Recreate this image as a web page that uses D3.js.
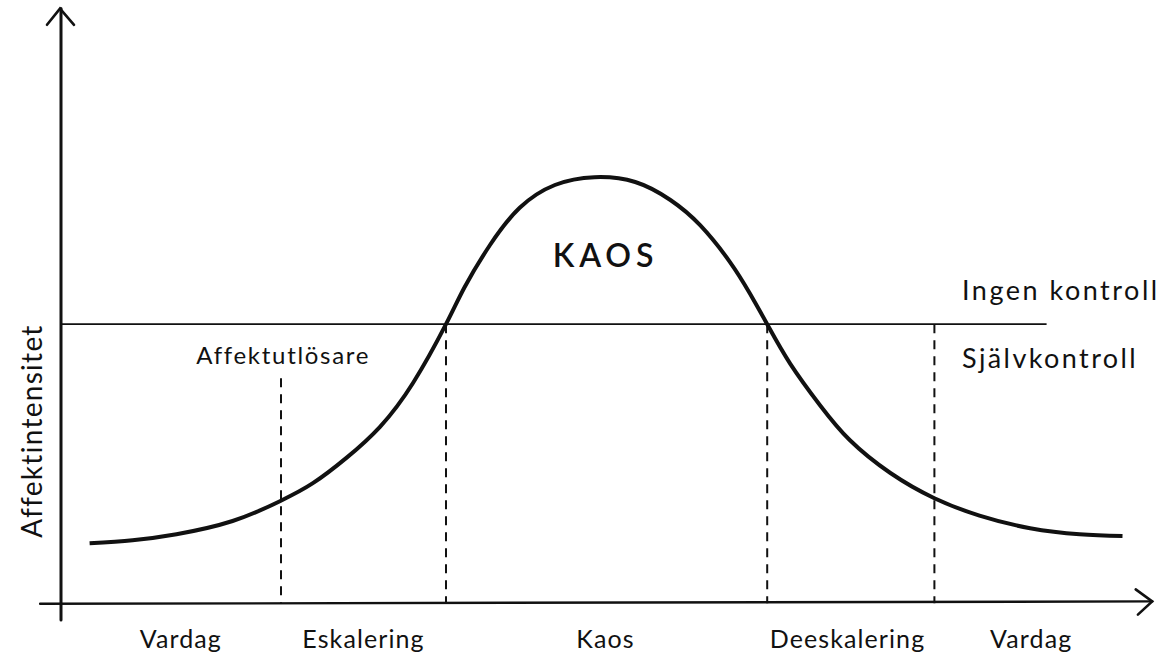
<!DOCTYPE html>
<html>
<head>
<meta charset="utf-8">
<script src="https://cdn.jsdelivr.net/npm/d3@7"></script>
<style>
  html, body { margin: 0; padding: 0; background: #fff; }
  svg { display: block; }
  text { font-family: Lato, "Open Sans", sans-serif; fill: #111; }
</style>
</head>
<body>
<div id="chart"></div>
<script>
// ---- data ----
const curveX = [2.6, 6.5, 10.5, 15.6, 19.9, 22.9, 26, 29, 32, 35, 36.7, 39, 41.7, 44.9, 48.5, 52.2, 55.4, 58.1, 60.8, 62.6, 64.2, 66.3, 69, 71.7, 75.4, 79.4, 83.5, 88.1, 92.6, 96.5];
const curveY = [10.3, 10.8, 11.8, 14.0, 17.3, 20.3, 24.6, 29.7, 37, 46.8, 53, 60, 66.2, 70, 71.3, 70.5, 67.5, 63.3, 57.2, 52, 46.8, 40.2, 33.3, 27.5, 22, 17.8, 14.9, 12.8, 11.8, 11.5];
const controlLevel = 46.8;
const controlLineEnd = 89.6;
const boundaryX = [20, 35, 64.2, 79.4];
const boundaryTop = [37.8, 46.8, 46.8, 46.8];
const phaseLabels = ["Vardag", "Eskalering", "Kaos", "Deeskalering", "Vardag"];
const phaseLabelX = [10.9, 27.5, 49.5, 71.5, 88.2];
const yAxisLabel = "Affektintensitet";
const triggerLabel = "Affektutlösare";
const chaosLabel = "KAOS";
const upperZoneLabel = "Ingen kontroll";
const lowerZoneLabel = "Självkontroll";

// ---- layout ----
const W = 1172, H = 656;
const x = d3.scaleLinear().domain([0, 100]).range([61, 1161]);
const y = d3.scaleLinear().domain([0, 100]).range([605, 5]);

const svg = d3.select("#chart").append("svg").attr("width", W).attr("height", H);

// axes
const g = svg.append("g").attr("stroke", "#111").attr("fill", "none").attr("stroke-linecap", "round");
g.append("line").attr("x1", x(0)).attr("x2", x(0)).attr("y1", y(-2.5)).attr("y2", y(99.4)).attr("stroke-width", 3);
g.append("path").attr("d", `M${x(0) - 14},${y(96.7)} L${x(0) - 1},${y(99.4)} L${x(0) + 13},${y(96.7)}`).attr("stroke-width", 2.6).attr("stroke-linejoin", "miter");
g.append("line").attr("x1", x(-1.9)).attr("x2", x(99.2)).attr("y1", y(0.2)).attr("y2", y(0.6)).attr("stroke-width", 2.4);
g.append("path").attr("d", `M${x(97.7)},${y(2.6)} L${x(99.2)},${y(0.6)} L${x(97.9)},${y(-1.6)}`).attr("stroke-width", 2.6);

// control threshold line
svg.append("line")
  .attr("x1", x(0)).attr("x2", x(controlLineEnd))
  .attr("y1", y(controlLevel)).attr("y2", y(controlLevel))
  .attr("stroke", "#111").attr("stroke-width", 1.8);

// dashed phase boundaries
svg.selectAll("line.boundary").data(boundaryX).join("line")
  .attr("class", "boundary")
  .attr("x1", d => x(d)).attr("x2", d => x(d))
  .attr("y1", (d, i) => y(boundaryTop[i])).attr("y2", y(0.3))
  .attr("stroke", "#111").attr("stroke-width", 2)
  .attr("stroke-dasharray", "9,7");

// curve
const pts = curveX.map((v, i) => [v, curveY[i]]);
svg.append("path")
  .datum(pts)
  .attr("d", d3.line().x(d => x(d[0])).y(d => y(d[1])).curve(d3.curveNatural))
  .attr("fill", "none").attr("stroke", "#111").attr("stroke-width", 4).attr("stroke-linecap", "butt");

// texts
svg.selectAll("text.phase").data(phaseLabels).join("text")
  .attr("class", "phase")
  .attr("x", (d, i) => x(phaseLabelX[i])).attr("y", 648)
  .attr("text-anchor", "middle").attr("font-size", 25).attr("letter-spacing", 1.1)
  .text(d => d);

svg.append("text").attr("x", x(20.2)).attr("y", 364)
  .attr("text-anchor", "middle").attr("font-size", 24).attr("letter-spacing", 1.7)
  .text(triggerLabel);

svg.append("text").attr("x", x(49.5)).attr("y", 267)
  .attr("text-anchor", "middle").attr("font-size", 32).attr("font-weight", 600).attr("letter-spacing", 4.8)
  .text(chaosLabel);

svg.append("text").attr("x", 962).attr("y", 300)
  .attr("font-size", 27).attr("letter-spacing", 2.5)
  .text(upperZoneLabel);
svg.append("text").attr("x", 962).attr("y", 368)
  .attr("font-size", 27).attr("letter-spacing", 2.4)
  .text(lowerZoneLabel);

svg.append("text")
  .attr("transform", `translate(42,${431}) rotate(-90)`)
  .attr("text-anchor", "middle").attr("font-size", 28).attr("letter-spacing", 1.3)
  .text(yAxisLabel);
</script>
</body>
</html>
